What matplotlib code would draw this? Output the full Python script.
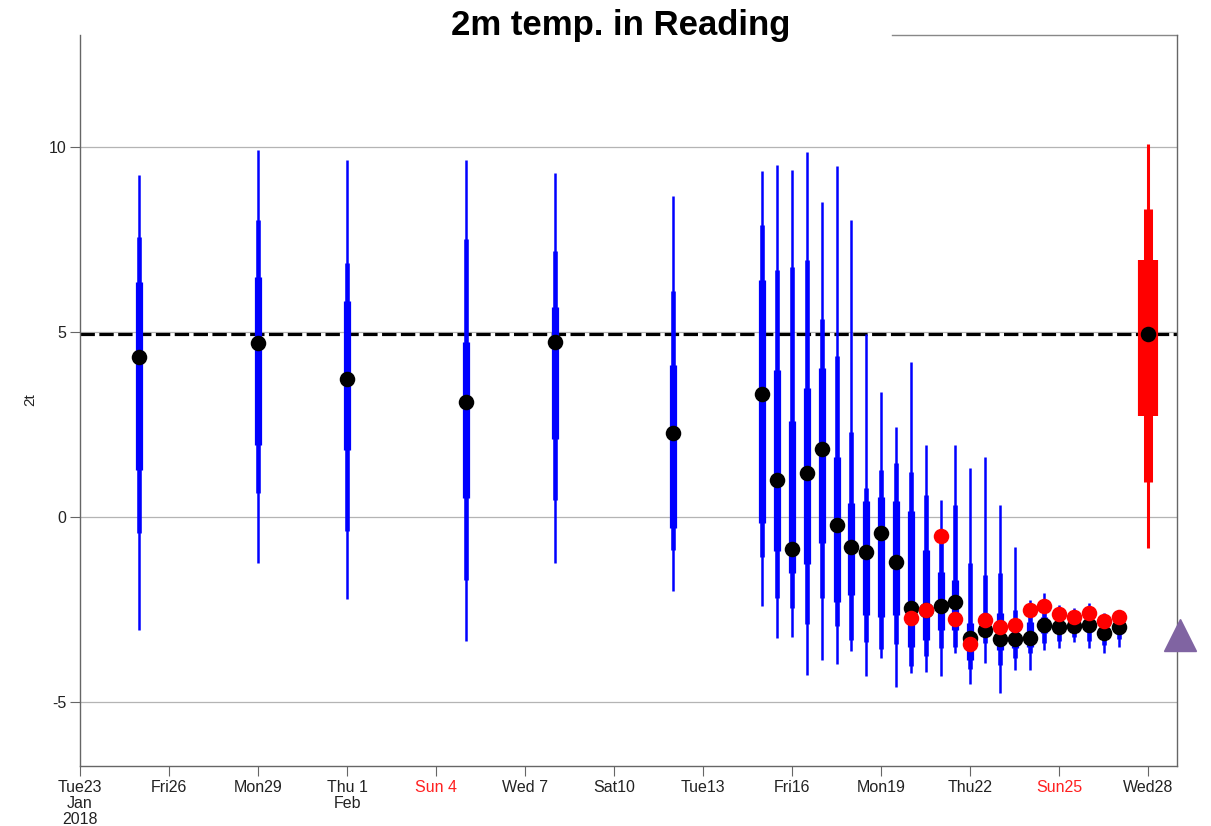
import matplotlib
matplotlib.use("Agg")
import matplotlib.pyplot as plt

plt.rcParams['font.family'] = ['Liberation Sans', 'DejaVu Sans']

# x = days since Tue 23 Jan 2018 00UTC
tick_days = [0, 3, 6, 9, 12, 15, 18, 21, 24, 27, 30, 33, 36]
tick_labels = ['Tue23\nJan\n2018', 'Fri26', 'Mon29', 'Thu 1\nFeb', 'Sun 4', 'Wed 7', 'Sat10',
               'Tue13', 'Fri16', 'Mon19', 'Thu22', 'Sun25', 'Wed28']
sunday_labels = ['Sun 4', 'Sun25']

# extended range forecasts (twice weekly)
ext_day = [2, 6, 9, 13, 16, 20]
ext_min = [-3.05, -1.25, -2.22, -3.36, -1.24, -1.99]
ext_p10 = [-0.43, 0.65, -0.39, -1.69, 0.45, -0.88]
ext_p25 = [1.27, 1.95, 1.82, 0.51, 2.11, -0.30]
ext_p75 = [6.36, 6.50, 5.83, 4.73, 5.69, 4.11]
ext_p90 = [7.57, 8.03, 6.88, 7.52, 7.18, 6.10]
ext_max = [9.24, 9.92, 9.66, 9.66, 9.30, 8.67]
ext_dot = [4.32, 4.70, 3.73, 3.11, 4.72, 2.27]

# medium range ensembles (every 12h)
ens_day = [23.0, 23.5, 24.0, 24.5, 25.0, 25.5, 26.0, 26.5, 27.0, 27.5, 28.0, 28.5, 29.0,
           29.5, 30.0, 30.5, 31.0, 31.5, 32.0, 32.5, 33.0, 33.5, 34.0, 34.5, 35.0]
ens_min = [-2.40, -3.28, -3.24, -4.26, -3.87, -3.97, -3.63, -4.31, -3.82, -4.60, -4.22, -4.18, -4.30,
           -3.68, -4.50, -3.95, -4.76, -4.14, -4.14, -3.59, -3.55, -3.37, -3.55, -3.68, -3.50]
ens_p10 = [-1.08, -2.20, -2.45, -2.90, -2.20, -2.94, -3.33, -3.38, -3.58, -3.43, -4.04, -3.77, -3.55,
           -3.50, -4.10, -3.41, -4.00, -3.82, -3.68, -3.40, -3.35, -3.25, -3.35, -3.45, -3.30]
ens_p25 = [-0.15, -0.93, -1.52, -1.27, -0.69, -2.30, -2.10, -2.65, -2.70, -2.65, -3.50, -3.32, -3.05,
           -3.05, -3.86, -3.19, -3.59, -3.55, -3.50, -3.14, -3.14, -3.10, -3.10, -3.30, -3.15]
ens_p75 = [6.42, 3.97, 2.60, 3.48, 4.02, 1.62, 0.39, 0.44, 0.54, 0.44, 0.17, -0.89, -1.48,
           -1.70, -2.86, -2.60, -2.60, -2.83, -2.83, -2.70, -2.75, -2.80, -2.70, -2.95, -2.80]
ens_p90 = [7.89, 6.67, 6.76, 6.96, 5.36, 4.36, 2.30, 0.78, 1.27, 1.45, 1.23, 0.59, -0.62,
           0.32, -1.25, -1.57, -1.52, -2.51, -2.51, -2.40, -2.55, -2.60, -2.50, -2.75, -2.65]
ens_max = [9.36, 9.51, 9.38, 9.88, 8.51, 9.49, 8.04, 4.95, 3.38, 2.44, 4.20, 1.95, 0.46,
           1.95, 1.32, 1.63, 0.32, -0.80, -2.24, -2.06, -2.38, -2.47, -2.33, -2.60, -2.51]
ens_dot = [3.33, 1.01, -0.86, 1.18, 1.83, -0.22, -0.80, -0.95, -0.44, -1.21, -2.46, -2.50, -2.40,
           -2.30, -3.26, -3.05, -3.30, -3.30, -3.28, -2.93, -2.96, -2.95, -2.92, -3.14, -2.98]

# observations
obs_day = [28.0, 28.5, 29.0, 29.5, 30.0, 30.5, 31.0, 31.5, 32.0, 32.5, 33.0, 33.5, 34.0, 34.5, 35.0]
obs_val = [-2.74, -2.50, -0.51, -2.75, -3.44, -2.78, -2.96, -2.92, -2.51, -2.40, -2.62, -2.69,
           -2.59, -2.80, -2.71]

# climate
clim_day = [36]
clim_min = [-0.85]
clim_p10 = [0.95]
clim_p25 = [2.73]
clim_p75 = [6.96]
clim_p90 = [8.33]
clim_max = [10.09]
clim_dot = [4.96]
clim_ref = 4.95

tri_day = [37.07]
tri_val = [-3.19]

fig = plt.figure(figsize=(12.11, 8.26), dpi=100)
ax = fig.add_axes([80 / 1211, 1 - 766 / 826, 1097 / 1211, 731 / 826])

ax.set_xlim(0, 36.97)
ax.set_ylim(-6.73, 13.03)

for yv in [-5, 0, 5, 10]:
    ax.axhline(yv, color='#b4b4b4', lw=0.9, zorder=0)

ax.axhline(clim_ref, color='black', lw=2.3, dashes=(4.5, 1.4), zorder=1)


def boxes(x, mn, p10, p25, p75, p90, mx, col, w):
    ax.vlines(x, mn, mx, color=col, lw=w[0], capstyle='butt', zorder=2)
    ax.vlines(x, p10, p90, color=col, lw=w[1], capstyle='butt', zorder=2)
    ax.vlines(x, p25, p75, color=col, lw=w[2], capstyle='butt', zorder=2)


boxes(ext_day, ext_min, ext_p10, ext_p25, ext_p75, ext_p90, ext_max, '#0000ff', (1.8, 3.3, 5.2))
boxes(ens_day, ens_min, ens_p10, ens_p25, ens_p75, ens_p90, ens_max, '#0000ff', (1.8, 3.3, 5.2))
boxes(clim_day, clim_min, clim_p10, clim_p25, clim_p75, clim_p90, clim_max, '#ff0000', (2.2, 6.5, 14.5))

ax.scatter(ext_day, ext_dot, s=125, color='black', zorder=3, lw=0)
ax.scatter(ens_day, ens_dot, s=125, color='black', zorder=3, lw=0)
ax.scatter(clim_day, clim_dot, s=125, color='black', zorder=3, lw=0)
ax.scatter(obs_day, obs_val, s=125, color='#ff0000', zorder=4, lw=0)

ax.plot(tri_day, tri_val, marker='^', ms=23, color='#8064a2', ls='none', clip_on=False, zorder=5)

ax.set_xticks(tick_days)
ax.set_xticklabels(tick_labels, fontsize=11.5, color='#222222', linespacing=1.1)
for lab in ax.get_xticklabels():
    if lab.get_text() in sunday_labels:
        lab.set_color('#ff2020')
ax.set_yticks([-5, 0, 5, 10])
ax.set_yticklabels(['-5', '0', '5', '10'], fontsize=11.5, color='#222222')
ax.tick_params(axis='both', direction='out', length=7, width=0.8, color='#666666', pad=3)

for side in ['left', 'bottom', 'right']:
    ax.spines[side].set_color('#666666')
    ax.spines[side].set_linewidth(1.0)
ax.spines['top'].set_visible(False)
ax.plot([0.74, 1.0], [1.0, 1.0], transform=ax.transAxes, color='#888888', lw=1.0, clip_on=False)

fig.text(30 / 1211, 1 - 400 / 826, '2t', rotation=90, fontsize=11, color='#222222',
         ha='center', va='center')
fig.text(621 / 1211, 1 - 26 / 826, '2m temp. in Reading', fontsize=25, fontweight='bold',
         ha='center', va='center')

fig.savefig('out.png', dpi=100)
